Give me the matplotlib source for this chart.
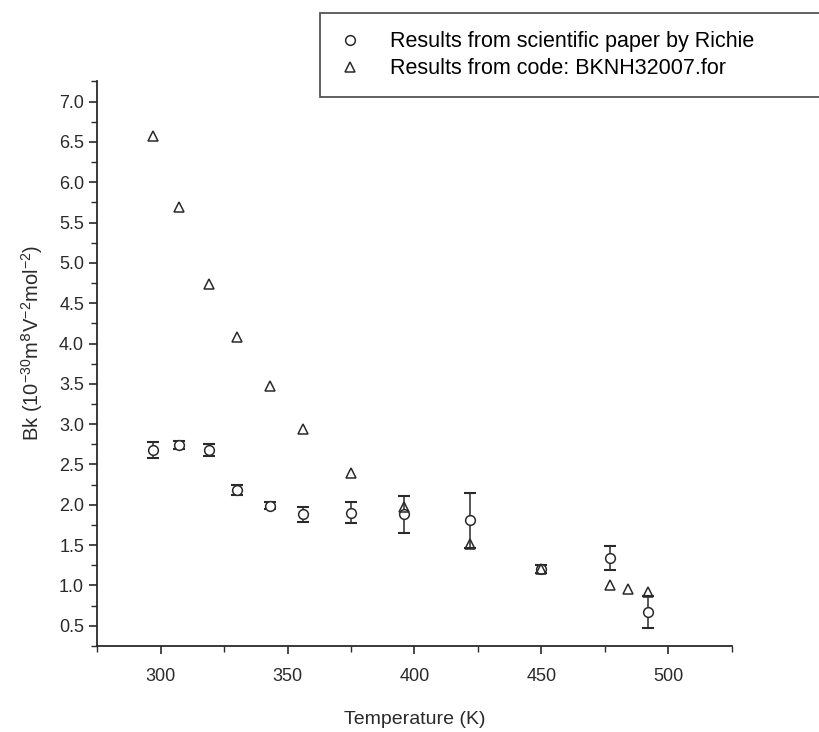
import numpy as np
import matplotlib.pyplot as plt
from matplotlib.ticker import MultipleLocator

plt.rcParams['font.family'] = ['Liberation Sans', 'DejaVu Sans']

# Data
T_paper = [297, 307, 319, 330, 343, 356, 375, 396, 422, 450, 477, 492]
bk_paper = [2.68, 2.74, 2.68, 2.18, 1.99, 1.88, 1.90, 1.88, 1.81, 1.20, 1.34, 0.67]
err_paper = [0.10, 0.05, 0.08, 0.06, 0.04, 0.09, 0.13, 0.23, 0.34, 0.05, 0.15, 0.20]

T_code = [297, 307, 319, 330, 343, 356, 375, 396, 422, 450, 477, 484, 492]
bk_code = [6.57, 5.69, 4.74, 4.08, 3.47, 2.94, 2.39, 1.97, 1.52, 1.20, 1.00, 0.96, 0.92]

ink = '#2a2a2a'

fig = plt.figure(figsize=(8.19, 7.32), dpi=100)
ax = fig.add_axes([0.1188, 0.1176, 0.7746, 0.7711])

ax.errorbar(T_paper, bk_paper, yerr=err_paper, fmt='none', ecolor=ink,
            elinewidth=1.1, capsize=4, capthick=1.5)
l1, = ax.plot(T_paper, bk_paper, 'o', ms=7, mfc='white', mec=ink, mew=1.1,
              label='Results from scientific paper by Richie')
l2, = ax.plot(T_code, bk_code, '^', ms=7, mfc='none', mec=ink, mew=1.1,
              label='Results from code: BKNH32007.for')

ax.set_xlim(275, 525)
ax.set_ylim(0.25, 7.25)
ax.xaxis.set_major_locator(MultipleLocator(50))
ax.xaxis.set_minor_locator(MultipleLocator(25))
ax.yaxis.set_major_locator(MultipleLocator(0.5))
ax.yaxis.set_minor_locator(MultipleLocator(0.25))
ax.yaxis.set_major_formatter(plt.FormatStrFormatter('%.1f'))

for s in ['top', 'right']:
    ax.spines[s].set_visible(False)
for s in ['left', 'bottom']:
    ax.spines[s].set_linewidth(1.3)
    ax.spines[s].set_color(ink)

ax.tick_params(which='major', direction='out', length=6, width=1.2,
               labelsize=13, colors=ink)
ax.tick_params(which='minor', direction='out', length=4, width=1.0, colors=ink)
ax.tick_params(axis='x', pad=10)

ax.set_xlabel('Temperature (K)', fontsize=14, color=ink)
ax.xaxis.set_label_coords(0.5, -0.115)
ax.set_ylabel(r'Bk (10$^{\mathregular{-30}}$m$^{8}$V$^{\mathregular{-2}}$mol$^{\mathregular{-2}}$)',
              fontsize=14.5, color=ink)
ax.yaxis.set_label_coords(-0.082, 0.537)

leg = fig.legend(handles=[l1, l2], loc='upper left',
                 bbox_to_anchor=(320 / 819, (732 - 97) / 732, 0.7, 84 / 732),
                 bbox_transform=fig.transFigure, mode='expand',
                 fontsize=15.5, frameon=True, fancybox=False,
                 handlelength=1.09, handletextpad=1.32, borderpad=0.85,
                 labelspacing=0.27, borderaxespad=0)
leg.get_frame().set_edgecolor(ink)
leg.get_frame().set_linewidth(1.3)

fig.savefig('out.png', dpi=100)
